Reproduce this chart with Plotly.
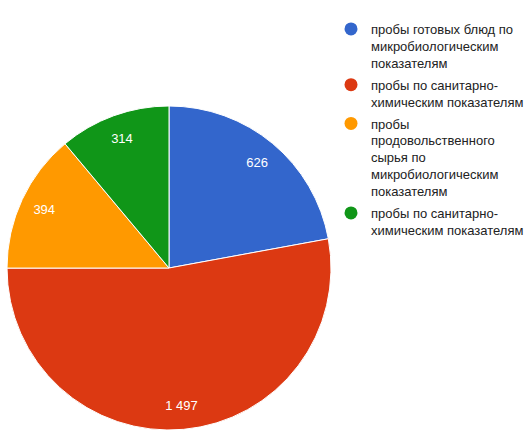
import plotly.graph_objects as go

# данные
labels = [
    "пробы готовых блюд по<br>микробиологическим<br>показателям",
    "пробы по санитарно-<br>химическим показателям",
    "пробы<br>продовольственного<br>сырья по<br>микробиологическим<br>показателям",
    "пробы по санитарно-<br>химическим показателям",
]
values = [626, 1497, 394, 314]
colors = ["#3366CC", "#DC3912", "#FF9900", "#109618"]

W, H = 532, 446
FONT = "Arial, Liberation Sans, sans-serif"
pie_domain = dict(x=[7 / W, 331 / W], y=[1 - 430 / H, 1 - 106 / H])
slice_ids = [f"s{i}" for i in range(len(values))]

fig = go.Figure()

# сам круг
fig.add_trace(go.Pie(
    labels=slice_ids,
    values=values,
    sort=False,
    direction="clockwise",
    rotation=0,
    marker=dict(colors=colors, line=dict(color="white", width=1)),
    textinfo="none",
    showlegend=False,
    hoverinfo="value+percent",
    domain=pie_domain,
))

# прозрачное кольцо поверх - только чтобы подписи легли ближе к краю
fig.add_trace(go.Pie(
    labels=slice_ids,
    values=values,
    sort=False,
    direction="clockwise",
    rotation=0,
    hole=0.7,
    marker=dict(colors=["rgba(0,0,0,0)"] * len(values), line=dict(width=0)),
    texttemplate="%{value:,}",
    textposition="inside",
    insidetextorientation="horizontal",
    textfont=dict(color="white", size=13, family=FONT),
    showlegend=False,
    hoverinfo="skip",
    domain=pie_domain,
))

# легенда с круглыми маркерами
for i, (lab, col) in enumerate(zip(labels, colors)):
    fig.add_trace(go.Scatter(
        x=[None], y=[None], mode="markers", name=lab,
        marker=dict(color=col, size=13, symbol="circle"),
        legendgroup=f"g{i}",
    ))

fig.update_xaxes(visible=False)
fig.update_yaxes(visible=False)

fig.update_layout(
    width=W, height=H,
    margin=dict(l=0, r=0, t=0, b=0),
    paper_bgcolor="white",
    plot_bgcolor="white",
    separators=", ",
    font=dict(family=FONT, size=13, color="#222222"),
    legend=dict(
        x=331 / W, y=1 - 14 / H, xanchor="left", yanchor="top",
        font=dict(size=13, color="#222222"),
        valign="top",
        tracegroupgap=2,
        bgcolor="rgba(0,0,0,0)",
    ),
)

fig.write_html(
    "out.html",
    config={"displayModeBar": False},
    post_script="document.body.style.margin='0';",
)
